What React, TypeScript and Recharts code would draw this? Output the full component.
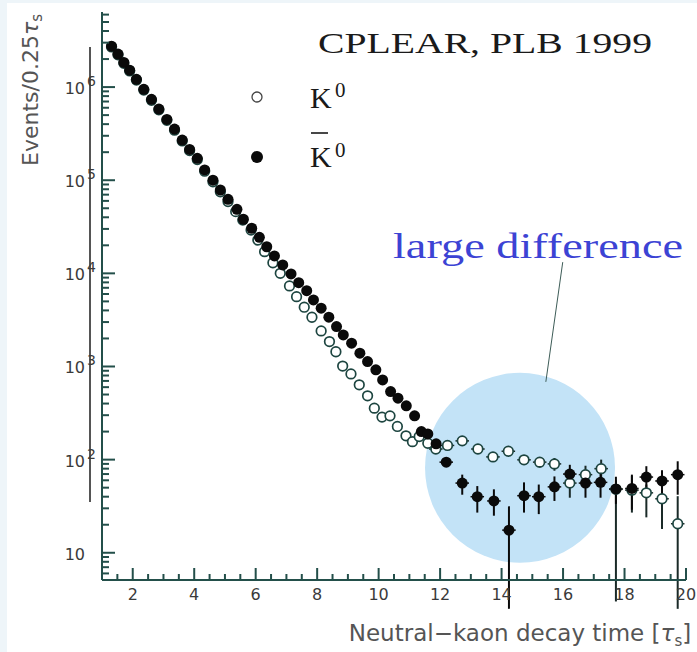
import React from 'react';
import { ScatterChart, Scatter, XAxis, YAxis, ErrorBar, ReferenceDot, ReferenceLine } from 'recharts';

// K0-bar (filled) — 0.25 tau_s bins up to ~12, then 0.5 bins
const kbarDenseT = [1.31, 1.52, 1.71, 1.9, 2.12, 2.36, 2.61, 2.85, 3.11, 3.36, 3.61, 3.85, 4.1, 4.34, 4.61, 4.85, 5.1, 5.39, 5.6, 5.87, 6.12, 6.36, 6.61, 6.88, 7.15, 7.4, 7.66, 7.88, 8.13, 8.38, 8.63, 8.85, 9.12, 9.39, 9.64, 9.91, 10.13, 10.39, 10.63, 10.9, 11.17, 11.39, 11.6, 11.87];
const kbarDenseN = [2.75e6, 2.26e6, 1.84e6, 1.52e6, 1.21e6, 9.45e5, 7.38e5, 5.81e5, 4.5e5, 3.54e5, 2.7e5, 2.14e5, 1.72e5, 1.29e5, 1.0e5, 7.85e4, 6.24e4, 4.87e4, 3.81e4, 3.05e4, 2.44e4, 1.93e4, 1.54e4, 1.23e4, 9860, 7950, 6520, 5190, 4230, 3380, 2680, 2180, 1780, 1390, 1130, 920, 718, 538, 457, 378, 295, 200, 189, 148];
const kbarTailT = [12.2, 12.72, 13.21, 13.75, 14.24, 14.73, 15.21, 15.72, 16.22, 16.73, 17.22, 17.72, 18.24, 18.71, 19.22, 19.73];
const kbarTailN = [94, 56, 40, 36, 17.5, 41, 40, 51, 70, 56, 57, 48.5, 49, 65, 59, 69];
const kbarTailLo = [10, 14, 13, 11, 15, 14, 14, 15, 14, 17, 18, 15, 20, 18, 22, 27];
const kbarTailHi = [10, 13, 12, 12, 14, 16, 14, 15, 18, 20, 18, 17, 20, 20, 18, 27];

// K0 (open)
const k0DenseT = [1.31, 1.52, 1.71, 1.9, 2.12, 2.36, 2.61, 2.85, 3.11, 3.36, 3.61, 3.85, 4.1, 4.34, 4.61, 4.85, 5.1, 5.35, 5.58, 5.85, 6.07, 6.29, 6.56, 6.8, 7.1, 7.33, 7.58, 7.83, 8.13, 8.4, 8.61, 8.83, 9.1, 9.37, 9.64, 9.86, 10.11, 10.37, 10.61, 10.89, 11.1, 11.32, 11.6];
const k0DenseN = [2.7e6, 2.22e6, 1.8e6, 1.49e6, 1.19e6, 9.3e5, 7.2e5, 5.7e5, 4.4e5, 3.45e5, 2.64e5, 2.08e5, 1.67e5, 1.25e5, 9.6e4, 7.5e4, 5.9e4, 4.6e4, 3.74e4, 2.92e4, 2.28e4, 1.71e4, 1.3e4, 1.0e4, 7330, 5620, 4330, 3380, 2410, 1850, 1440, 1010, 833, 635, 484, 357, 286, 295, 227, 180, 156, 177, 150];
const k0TailT = [11.86, 12.24, 12.72, 13.23, 13.72, 14.22, 14.73, 15.24, 15.72, 16.22, 16.73, 17.24, 17.72, 18.24, 18.71, 19.22, 19.73];
const k0TailN = [130, 142, 159, 130, 107, 123, 99.5, 94, 90, 56, 69, 80, 48, 47, 44, 38, 20.5];
const k0TailLo = [8, 10, 12, 12, 12, 12, 12, 12, 14, 17, 17, 20, 45, 20, 20, 20, 18];
const k0TailHi = [8, 10, 12, 12, 12, 12, 12, 12, 14, 17, 17, 20, 12, 20, 10, 11, 20];
const TAIL_HALF_BIN = 0.22;

const X_TICKS = [1.5, 2, 2.5, 3, 3.5, 4, 4.5, 5, 5.5, 6, 6.5, 7, 7.5, 8, 8.5, 9, 9.5, 10, 10.5, 11, 11.5, 12, 12.5, 13, 13.5, 14, 14.5, 15, 15.5, 16, 16.5, 17, 17.5, 18, 18.5, 19, 19.5, 20];
const Y_DECADES = [1, 10, 100, 1000, 10000, 100000, 1000000];
const Y_MIN = 5.1;
const Y_MAX = 6.4e6;

const yTicks: number[] = [];
Y_DECADES.forEach((d) => {
  for (let m = 1; m <= 9; m++) {
    const v = m * d;
    if (v >= Y_MIN && v <= Y_MAX) yTicks.push(v);
  }
});

const rows = (dT: number[], dN: number[], tT: number[], tN: number[], lo: number[], hi: number[]) => [
  ...dT.map((t, i) => ({ t, n: dN[i], ey: [0, 0], ex: 0 })),
  ...tT.map((t, i) => ({ t, n: tN[i], ey: [lo[i], hi[i]], ex: TAIL_HALF_BIN })),
];

const kbarData = rows(kbarDenseT, kbarDenseN, kbarTailT, kbarTailN, kbarTailLo, kbarTailHi);
const k0Data = rows(k0DenseT, k0DenseN, k0TailT, k0TailN, k0TailLo, k0TailHi);

const AXIS = '#234f4a';
const TICK_FONT = 'DejaVu Sans';

const YTick = (props: any) => {
  const { x, y, payload } = props;
  const lg = Math.log10(payload.value);
  const e = Math.round(lg);
  const major = Math.abs(lg - e) < 1e-6;
  return (
    <g>
      <line x1={x} x2={x + (major ? 13 : 7)} y1={y} y2={y} stroke={AXIS} strokeWidth={2} />
      {major && (
        <text x={x - 17} y={y + 7} textAnchor="end" fontFamily={TICK_FONT} fontSize={16} fill="#3a3a3a">
          10
        </text>
      )}
      {major && e > 1 && (
        <text x={x - 15} y={y - 1} fontFamily={TICK_FONT} fontSize={14} fill="#3a3a3a">
          {e}
        </text>
      )}
    </g>
  );
};

const XTick = (props: any) => {
  const { x, y, payload } = props;
  const v = payload.value;
  const major = v % 2 === 0;
  return (
    <g>
      <line x1={x} x2={x} y1={y} y2={y - (major ? 12 : 6)} stroke={AXIS} strokeWidth={2} />
      {major && (
        <text x={x} y={y + 20} textAnchor="middle" fontFamily={TICK_FONT} fontSize={16} fill="#3a3a3a">
          {v}
        </text>
      )}
    </g>
  );
};

const OpenDot = (p: any) => <circle cx={p.cx} cy={p.cy} r={4.8} fill="#ffffff" stroke="#1d4540" strokeWidth={1.7} />;
const FilledDot = (p: any) => <circle cx={p.cx} cy={p.cy} r={5.5} fill="#0a0a0a" />;

export default function App() {
  return (
    <div style={{ position: 'absolute', left: 0, top: 0, width: 697, height: 652, background: '#eef5f9' }}>
      <div style={{ position: 'absolute', left: 7, top: 3, width: 690, height: 649, background: '#ffffff' }} />
      <div style={{ position: 'absolute', left: 89, top: 47, width: 1.5, height: 455, background: '#555' }} />
      <div style={{ position: 'absolute', left: 0, top: 0 }}>
        <ScatterChart width={697} height={652} margin={{ top: 12, right: 11, left: 42, bottom: 42 }}>
          <XAxis
            dataKey="t"
            type="number"
            domain={[1, 20]}
            allowDataOverflow
            ticks={X_TICKS}
            interval={0}
            height={30}
            tickSize={0}
            tickMargin={0}
            tickLine={false}
            axisLine={{ stroke: AXIS, strokeWidth: 2 }}
            tick={<XTick />}
          />
          <YAxis
            dataKey="n"
            type="number"
            scale="log"
            domain={[Y_MIN, Y_MAX]}
            allowDataOverflow
            ticks={yTicks}
            interval={0}
            width={60}
            tickSize={0}
            tickMargin={0}
            tickLine={false}
            axisLine={{ stroke: AXIS, strokeWidth: 2 }}
            tick={<YTick />}
          />
          <XAxis
            xAxisId="top"
            orientation="top"
            type="number"
            domain={[1, 20]}
            height={0}
            tick={false}
            tickLine={false}
            axisLine={{ stroke: AXIS, strokeWidth: 2 }}
          />
          <YAxis
            yAxisId="right"
            orientation="right"
            type="number"
            domain={[0, 1]}
            width={0}
            tick={false}
            tickLine={false}
            axisLine={{ stroke: AXIS, strokeWidth: 2 }}
          />
          <ReferenceDot x={14.6} y={81.7} r={95} fill="#c3e3f7" stroke="none" ifOverflow="visible" zIndex={-10} />
          <ReferenceLine
            segment={[
              { x: 15.99, y: 13200 },
              { x: 15.44, y: 684 },
            ]}
            stroke="#3d5c57"
            strokeWidth={1}
            ifOverflow="visible"
          />
          <Scatter data={k0Data} shape={OpenDot} isAnimationActive={false}>
            <ErrorBar dataKey="ey" direction="y" width={0} stroke="#1a2a28" strokeWidth={2} />
            <ErrorBar dataKey="ex" direction="x" width={0} stroke="#1a2a28" strokeWidth={1.5} />
          </Scatter>
          <Scatter data={kbarData} shape={FilledDot} isAnimationActive={false}>
            <ErrorBar dataKey="ey" direction="y" width={0} stroke="#0a0a0a" strokeWidth={2} />
            <ErrorBar dataKey="ex" direction="x" width={0} stroke="#0a0a0a" strokeWidth={1.5} />
          </Scatter>
        </ScatterChart>
      </div>
      <svg width={697} height={652} style={{ position: 'absolute', left: 0, top: 0, pointerEvents: 'none' }}>
        <text x={318} y={53} fontFamily="Liberation Serif" fontSize={30} textLength={334} lengthAdjust="spacingAndGlyphs" fill="#1a1a1a">
          CPLEAR, PLB 1999
        </text>
        <circle cx={257} cy={97} r={5} fill="#ffffff" stroke="#444" strokeWidth={1.3} />
        <text x={310} y={108} fontFamily="Liberation Serif" fontSize={30} fill="#1a1a1a">K</text>
        <text x={335} y={97} fontFamily="Liberation Serif" fontSize={21} fill="#1a1a1a">0</text>
        <circle cx={257} cy={157} r={6} fill="#0a0a0a" />
        <line x1={311} x2={328} y1={133} y2={133} stroke="#1a1a1a" strokeWidth={1.6} />
        <text x={310} y={167} fontFamily="Liberation Serif" fontSize={30} fill="#1a1a1a">K</text>
        <text x={335} y={157} fontFamily="Liberation Serif" fontSize={21} fill="#1a1a1a">0</text>
        <text x={393} y={258} fontFamily="Liberation Serif" fontSize={36} textLength={290} lengthAdjust="spacingAndGlyphs" fill="#3c43d4">
          large difference
        </text>
        <text transform="translate(38,90) rotate(-90)" textAnchor="middle" fontFamily={TICK_FONT} fontSize={22} fill="#555">
          Events/0.25<tspan fontStyle="italic">τ</tspan>
          <tspan fontSize={15} dy={4}>s</tspan>
        </text>
        <text x={520} y={641} textAnchor="middle" fontFamily={TICK_FONT} fontSize={23} fill="#555">
          Neutral−kaon decay time [<tspan fontStyle="italic">τ</tspan>
          <tspan fontSize={15} dy={5}>s</tspan>
          <tspan dy={-5}>]</tspan>
        </text>
      </svg>
    </div>
  );
}
